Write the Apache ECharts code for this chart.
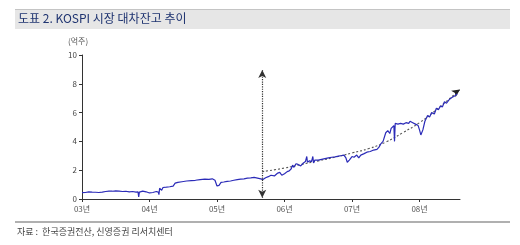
<!DOCTYPE html>
<html><head><meta charset="utf-8">
<script src="https://cdn.jsdelivr.net/npm/echarts@6/dist/echarts.min.js"></script>
<style>html,body{margin:0;padding:0;background:#fff}#c{width:520px;height:245px}</style>
</head><body><div id="c"></div>
<script>
const titleText = '도표 2. KOSPI 시장 대차잔고 추이';
const sourceText = '자료 :  한국증권전산, 신영증권 리서치센터';
const unitText = '(억주)';
const yearTicks = [2003, 2004, 2005, 2006, 2007, 2008];
const yearLabels = ['03년', '04년', '05년', '06년', '07년', '08년'];
const dates = [
2003.00,2003.05,2003.10,2003.15,2003.20,2003.25,2003.30,2003.35,2003.40,2003.45,
2003.50,2003.55,2003.60,2003.65,2003.70,2003.75,2003.80,2003.83,2003.84,2003.85,
2003.90,2003.95,2004.00,2004.05,2004.10,2004.13,2004.14,2004.15,2004.18,2004.20,
2004.25,2004.30,2004.35,2004.38,2004.42,2004.48,2004.55,2004.62,2004.68,2004.75,
2004.82,2004.88,2004.93,2004.97,2005.00,2005.03,2005.06,2005.10,2005.15,2005.20,
2005.25,2005.30,2005.35,2005.40,2005.45,2005.50,2005.55,2005.60,2005.65,2005.68,
2005.72,2005.76,2005.80,2005.85,2005.90,2005.93,2005.96,2005.98,2006.00,2006.04,
2006.07,2006.10,2006.12,2006.14,2006.17,2006.20,2006.24,2006.28,2006.31,2006.33,
2006.34,2006.37,2006.40,2006.42,2006.43,2006.45,2006.50,2006.55,2006.60,2006.65,
2006.70,2006.75,2006.80,2006.85,2006.88,2006.91,2006.93,2006.96,2007.00,2007.03,
2007.07,2007.10,2007.13,2007.18,2007.22,2007.27,2007.32,2007.37,2007.40,2007.43,
2007.46,2007.50,2007.53,2007.56,2007.58,2007.62,2007.63,2007.64,2007.68,2007.72,
2007.76,2007.80,2007.84,2007.86,2007.90,2007.94,2007.98,2008.00,2008.02,2008.05,
2008.08,2008.12,2008.15,2008.18,2008.22,2008.25,2008.28,2008.31,2008.34,2008.37,
2008.40,2008.44,2008.48,2008.52,2008.56
];
const values = [
0.44,0.45,0.50,0.48,0.47,0.45,0.48,0.52,0.55,0.54,
0.56,0.55,0.52,0.54,0.50,0.52,0.48,0.50,0.15,0.48,
0.55,0.50,0.42,0.45,0.52,0.48,0.30,0.75,0.60,0.80,
0.82,0.85,0.90,1.10,1.15,1.20,1.25,1.28,1.30,1.35,
1.38,1.36,1.40,1.30,0.90,0.95,1.15,1.18,1.22,1.25,
1.30,1.35,1.38,1.40,1.45,1.47,1.50,1.45,1.40,1.35,
1.48,1.55,1.65,1.60,1.80,1.85,1.65,1.55,1.75,1.90,
1.95,2.10,2.35,2.20,2.45,2.40,2.30,2.50,2.60,2.95,
2.55,2.65,2.60,2.95,2.50,2.70,2.70,2.75,2.80,2.85,
2.90,2.92,2.98,3.02,3.05,2.85,2.55,2.70,2.95,2.90,
3.05,2.85,3.05,3.15,3.25,3.30,3.40,3.45,3.60,3.85,
4.00,4.60,4.75,4.55,4.90,5.10,4.00,5.25,5.20,5.25,
5.20,5.30,5.25,5.40,5.30,5.20,5.10,4.80,4.45,4.80,
5.40,5.80,5.70,6.00,5.90,6.30,6.20,6.45,6.40,6.75,
6.65,6.90,7.05,7.15,7.30
];
const trendDates = [2005.67, 2006.0, 2006.25, 2006.5, 2006.75, 2007.0, 2007.25, 2007.5, 2007.75, 2008.0, 2008.25, 2008.6];
const trendValues = [1.9, 2.15, 2.4, 2.65, 2.9, 3.2, 3.5, 3.95, 4.6, 5.3, 6.2, 7.6];
const markerDate = 2005.67;
const markerRange = [0.08, 8.95];

const font = '"Noto Sans CJK KR", "Noto Sans", sans-serif';
const chart = echarts.init(document.getElementById('c'), null, {renderer: 'canvas'});
const trendData = trendDates.map((d, i) => {
  const p = {value: [d, trendValues[i]]};
  if (i === trendDates.length - 1) {
    p.symbol = 'arrow'; p.symbolSize = [6, 8]; p.symbolRotate = -56;
    p.itemStyle = {color: '#222'};
  }
  return p;
});
chart.setOption({
  animation: false,
  grid: {left: 82, right: 60, top: 55, bottom: 46},
  xAxis: {
    type: 'value', min: 2003, max: 2008.6, interval: 1,
    axisLine: {lineStyle: {color: '#333', width: 1}},
    axisTick: {show: true, length: 3, customValues: yearTicks, lineStyle: {color: '#333'}},
    axisLabel: {customValues: yearTicks, fontSize: 8, color: '#555', fontFamily: font, margin: 6,
      formatter: v => yearLabels[yearTicks.indexOf(Math.round(v))] || ''},
    splitLine: {show: false}
  },
  yAxis: {
    type: 'value', min: 0, max: 10, interval: 2,
    axisLine: {show: true, lineStyle: {color: '#333', width: 1}},
    axisTick: {show: true, length: 3, lineStyle: {color: '#333'}},
    axisLabel: {fontSize: 8, color: '#444', fontFamily: font, margin: 5},
    splitLine: {show: false}
  },
  graphic: [
    {type: 'rect', shape: {x: 15, y: 9, width: 495, height: 20}, style: {fill: '#e6e6e6'}, silent: true},
    {type: 'rect', shape: {x: 15, y: 9, width: 495, height: 1}, style: {fill: '#c4c4c4'}, silent: true},
    {type: 'text', left: 18, top: 12, style: {text: titleText, fill: '#1e3370', font: '12px ' + font}},
    {type: 'text', left: 68, top: 37, style: {text: unitText, fill: '#555', font: '8px ' + font}},
    {type: 'rect', shape: {x: 15, y: 221, width: 495, height: 2}, style: {fill: '#b0b0b0'}, silent: true},
    {type: 'text', left: 17, top: 227, style: {text: sourceText, fill: '#444', font: '9px ' + font}}
  ],
  series: [
    {
      type: 'line', data: dates.map((d, i) => [d, values[i]]), symbol: 'none',
      lineStyle: {color: '#2b2bb8', width: 1.2}, z: 3,
      markLine: {
        silent: true, symbol: ['arrow', 'arrow'], symbolSize: [6, 8],
        label: {show: false},
        lineStyle: {type: 'dotted', color: '#333', width: 1.2},
        data: [[{coord: [markerDate, markerRange[0]]}, {coord: [markerDate, markerRange[1]]}]]
      }
    },
    {
      type: 'line', data: trendData, smooth: true, symbol: 'none', showSymbol: true,
      lineStyle: {color: '#555', width: 1.1, type: [2, 2]}, z: 2
    }
  ]
});
</script></body></html>
